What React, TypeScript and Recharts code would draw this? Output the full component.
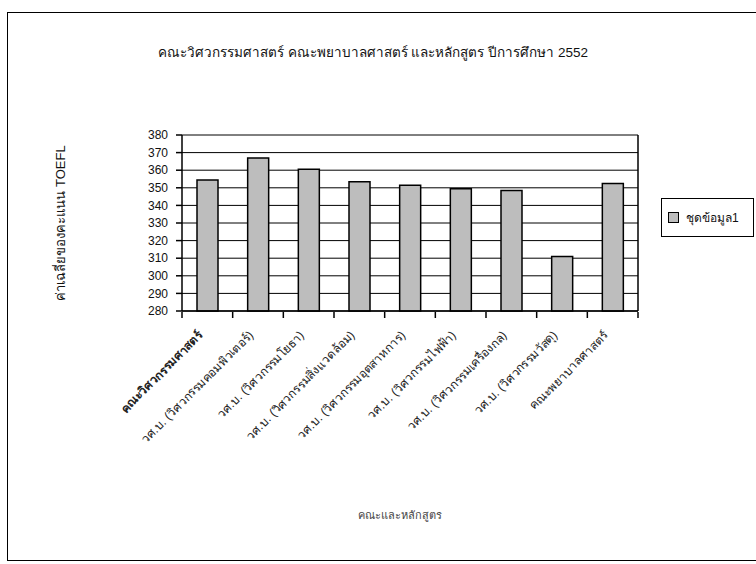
import { BarChart, Bar, XAxis, YAxis, CartesianGrid, Legend } from "recharts";

const categories = [
  "คณะวิศวกรรมศาสตร์",
  "วศ.บ. (วิศวกรรมคอมพิวเตอร์)",
  "วศ.บ. (วิศวกรรมโยธา)",
  "วศ.บ. (วิศวกรรมสิ่งแวดล้อม)",
  "วศ.บ. (วิศวกรรมอุตสาหการ)",
  "วศ.บ. (วิศวกรรมไฟฟ้า)",
  "วศ.บ. (วิศวกรรมเครื่องกล)",
  "วศ.บ. (วิศวกรรมวัสดุ)",
  "คณะพยาบาลศาสตร์",
];
const scores = [354.5, 367, 360.5, 353.5, 351.5, 349.5, 348.5, 311, 352.5];
const yTicks = [280, 290, 300, 310, 320, 330, 340, 350, 360, 370, 380];
const yDomain: [number, number] = [280, 380];
const edgeTicks = [0, 1, 2, 3, 4, 5, 6, 7, 8, 9];
const edgeDomain: [number, number] = [0, 9];
const seriesName = "ชุดข้อมูล1";

const data = categories.map((name, i) => ({ name, score: scores[i], pos: i + 0.5 }));

const FONT = "'Liberation Sans', Arial, 'Noto Sans', sans-serif";
const blackLine = { stroke: "#000", strokeWidth: 1.5 };
const yTickStyle = { fontSize: 12, fontFamily: FONT, fill: "#111" };
const chartMargin = { top: 135, right: 117, left: 142, bottom: 251 };
const legendWrap = { position: "absolute" as const, left: 661, top: 198, width: 93, height: 41 };

function EmptyTick() {
  return <g />;
}

// category names, rotated 45deg and ending just under the bar
function AngledTick({ x, y, payload, index }: any) {
  return (
    <g transform={`translate(${x - 7},${y + 14}) rotate(-45)`}>
      <text
        x={0}
        y={0}
        dy="0.35em"
        textAnchor="end"
        fontSize={12}
        fontFamily={FONT}
        fontWeight={index === 0 ? 700 : 400}
        fill="#222"
      >
        {payload.value}
      </text>
    </g>
  );
}

function LegendBox() {
  return (
    <div
      style={{
        border: "1px solid #000",
        height: 39,
        display: "flex",
        alignItems: "center",
        paddingLeft: 6,
        fontFamily: FONT,
        fontSize: 12,
        color: "#111",
        boxSizing: "border-box",
        background: "#fff",
      }}
    >
      <span
        style={{
          display: "inline-block",
          width: 9,
          height: 9,
          background: "#bdbdbd",
          border: "1.5px solid #000",
          marginRight: 7,
        }}
      />
      {seriesName}
    </div>
  );
}

const angledTick = <AngledTick />;
const legendBox = <LegendBox />;

export default function App() {
  return (
    <div style={{ position: "relative", width: 756, height: 564, background: "#fff", overflow: "hidden" }}>
      <style>{`body{margin:0;}`}</style>
      <div
        style={{
          position: "absolute",
          left: 7,
          top: 12,
          width: 770,
          height: 549,
          border: "1.5px solid #000",
          boxSizing: "border-box",
        }}
      />
      <div
        style={{
          position: "absolute",
          left: 0,
          width: 746,
          top: 41,
          textAlign: "center",
          fontFamily: FONT,
          fontSize: 13.5,
          color: "#111",
        }}
      >
        คณะวิศวกรรมศาสตร์ คณะพยาบาลศาสตร์ และหลักสูตร ปีการศึกษา 2552
      </div>
      <div
        style={{
          position: "absolute",
          left: 60,
          top: 223,
          transform: "translate(-50%,-50%) rotate(-90deg)",
          whiteSpace: "nowrap",
          fontFamily: FONT,
          fontSize: 13,
          color: "#111",
        }}
      >
        ค่าเฉลี่ยของคะแนน TOEFL
      </div>
      <div
        style={{
          position: "absolute",
          left: 0,
          width: 800,
          top: 506,
          textAlign: "center",
          fontFamily: FONT,
          fontSize: 11,
          color: "#444",
        }}
      >
        คณะและหลักสูตร
      </div>
      <div style={{ position: "absolute", left: 0, top: 0 }}>
        <BarChart width={756} height={564} data={data} margin={chartMargin} barSize={21}>
          <CartesianGrid horizontal vertical={false} stroke="#000" strokeWidth={1} yAxisId="l" xAxisId="cat" />
          <XAxis
            xAxisId="cat"
            dataKey="name"
            height={1}
            interval={0}
            tickLine={false}
            axisLine={blackLine}
            tick={angledTick}
          />
          <XAxis
            xAxisId="edges"
            dataKey="pos"
            type="number"
            domain={edgeDomain}
            ticks={edgeTicks}
            interval={0}
            allowDataOverflow
            height={1}
            tick={EmptyTick}
            axisLine={false}
            tickLine={blackLine}
            tickSize={6}
          />
          <YAxis
            yAxisId="l"
            domain={yDomain}
            ticks={yTicks}
            interval={0}
            width={40}
            axisLine={blackLine}
            tickLine={blackLine}
            tickSize={6}
            tickMargin={8}
            tick={yTickStyle}
          />
          <YAxis
            yAxisId="r"
            orientation="right"
            domain={yDomain}
            ticks={yTicks}
            width={1}
            tick={false}
            tickLine={false}
            axisLine={blackLine}
          />
          <Legend
            layout="horizontal"
            verticalAlign="middle"
            align="center"
            content={legendBox}
            wrapperStyle={legendWrap}
          />
          <Bar
            dataKey="score"
            name={seriesName}
            xAxisId="cat"
            yAxisId="l"
            fill="#bdbdbd"
            stroke="#000"
            strokeWidth={1.5}
            isAnimationActive={false}
          />
        </BarChart>
      </div>
    </div>
  );
}
